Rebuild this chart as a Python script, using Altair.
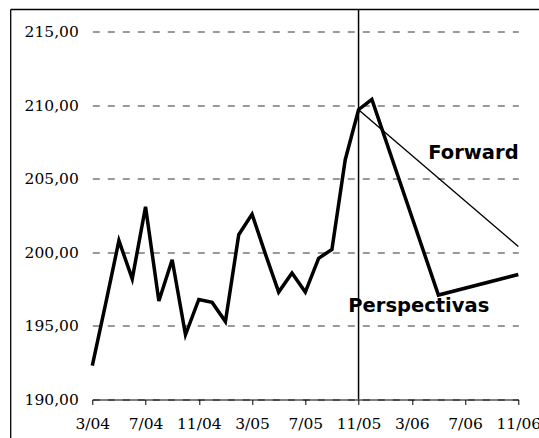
import altair as alt
import pandas as pd

# Monthly history, 3/04 .. 11/05
hist_months = ["3/04", "4/04", "5/04", "6/04", "7/04", "8/04", "9/04", "10/04",
               "11/04", "12/04", "1/05", "2/05", "3/05", "4/05", "5/05", "6/05",
               "7/05", "8/05", "9/05", "10/05", "11/05"]
hist_values = [192.3, 196.5, 200.8, 198.2, 203.1, 196.7, 199.5, 194.4,
               196.8, 196.6, 195.3, 201.2, 202.6, 199.9, 197.3, 198.6,
               197.3, 199.6, 200.2, 206.3, 209.7]

# Outlook path after 11/05
persp_months = ["11/05", "12/05", "5/06", "11/06"]
persp_values = [209.7, 210.4, 197.1, 198.5]

# Forward curve
fwd_months = ["11/05", "11/06"]
fwd_values = [209.7, 200.4]

# Axis labels and gridline levels
tick_labels = ["3/04", "7/04", "11/04", "3/05", "7/05", "11/05", "3/06", "7/06", "11/06"]
y_levels = [190, 195, 200, 205, 210, 215]
split_month = "11/05"

W, H = 426, 390
PAD_L, PAD_T = 92.3, 9.5


def month_index(label):
    m, y = label.split("/")
    return (int(y) - 4) * 12 + int(m) - 3


main = pd.DataFrame({
    "m": [month_index(s) for s in hist_months + persp_months[1:]],
    "v": hist_values + persp_values[1:],
})
fwd = pd.DataFrame({"m": [month_index(s) for s in fwd_months], "v": fwd_values})

label_lookup = "[" + ",".join("'" + s + "'" for s in tick_labels) + "]"
x_label_expr = "datum.value % 4 == 0 ? " + label_lookup + "[datum.value / 4] : ''"

x_scale = alt.Scale(domain=[0, 32], nice=False, zero=False)
y_scale = alt.Scale(domain=[190, 190 + H / 14.71], nice=False, zero=False)

x_axis = alt.Axis(
    values=list(range(0, 33, 2)),
    labelExpr=x_label_expr,
    title=None, grid=False, domainColor="black", domainWidth=1,
    tickColor="black", tickSize=5, labelPadding=12, labelFlush=False,
    labelOverlap=False, labelFont="DejaVu Serif", labelFontSize=15.5,
    labelColor="black", zindex=1,
)
y_axis = alt.Axis(
    values=y_levels,
    labelExpr="replace(format(datum.value, '.2f'), '.', ',')",
    title=None, domain=False, ticks=False, labelPadding=14,
    grid=True, gridDash=[7, 8], gridColor="#333", gridWidth=1,
    labelFont="DejaVu Serif", labelFontSize=15.5, labelColor="black",
)

base_axes = alt.Chart(main).mark_line(opacity=0).encode(
    x=alt.X("m:Q", scale=x_scale, axis=x_axis),
    y=alt.Y("v:Q", scale=y_scale, axis=y_axis),
)

thick = alt.Chart(main).mark_line(color="black", strokeWidth=3.5).encode(
    x=alt.X("m:Q", scale=x_scale), y=alt.Y("v:Q", scale=y_scale), order="m:Q"
)

forward = alt.Chart(fwd).mark_line(color="black", strokeWidth=1.4).encode(
    x=alt.X("m:Q", scale=x_scale), y=alt.Y("v:Q", scale=y_scale)
)

split = alt.Chart(pd.DataFrame({"m": [month_index(split_month)]})).mark_rule(
    color="black", strokeWidth=1.5
).encode(x=alt.X("m:Q", scale=x_scale), y=alt.value(0), y2=alt.value(H))

# Outer frame (left and top edges)
frame_left = alt.Chart(pd.DataFrame({"a": [0]})).mark_rule(color="black", strokeWidth=1.3).encode(
    x=alt.value(10.7 - PAD_L), y=alt.value(0), y2=alt.value(450)
)
frame_top = alt.Chart(pd.DataFrame({"a": [0]})).mark_rule(color="black", strokeWidth=1.3).encode(
    x=alt.value(10.7 - PAD_L), x2=alt.value(560), y=alt.value(0)
)

text_style = dict(font="DejaVu Sans", fontWeight="bold", fontSize=19.5,
                  color="black", align="left", baseline="alphabetic")
lbl_fwd = alt.Chart(pd.DataFrame({"a": [0]})).mark_text(**text_style).encode(
    x=alt.datum(25.24, scale=x_scale), y=alt.datum(206.34, scale=y_scale),
    text=alt.value("Forward"),
)
lbl_persp = alt.Chart(pd.DataFrame({"a": [0]})).mark_text(**text_style).encode(
    x=alt.datum(19.23, scale=x_scale), y=alt.datum(195.96, scale=y_scale),
    text=alt.value("Perspectivas"),
)

chart = alt.layer(
    base_axes, split, forward, thick, lbl_fwd, lbl_persp, frame_left, frame_top
).properties(
    width=W, height=H,
    autosize=alt.AutoSizeParams(type="none"),
    padding={"left": PAD_L, "top": PAD_T, "right": 539 - PAD_L - W, "bottom": 438 - PAD_T - H},
    background="white",
).configure_view(stroke=None)

chart.save("out.html", embed_options={"renderer": "svg", "actions": False})
